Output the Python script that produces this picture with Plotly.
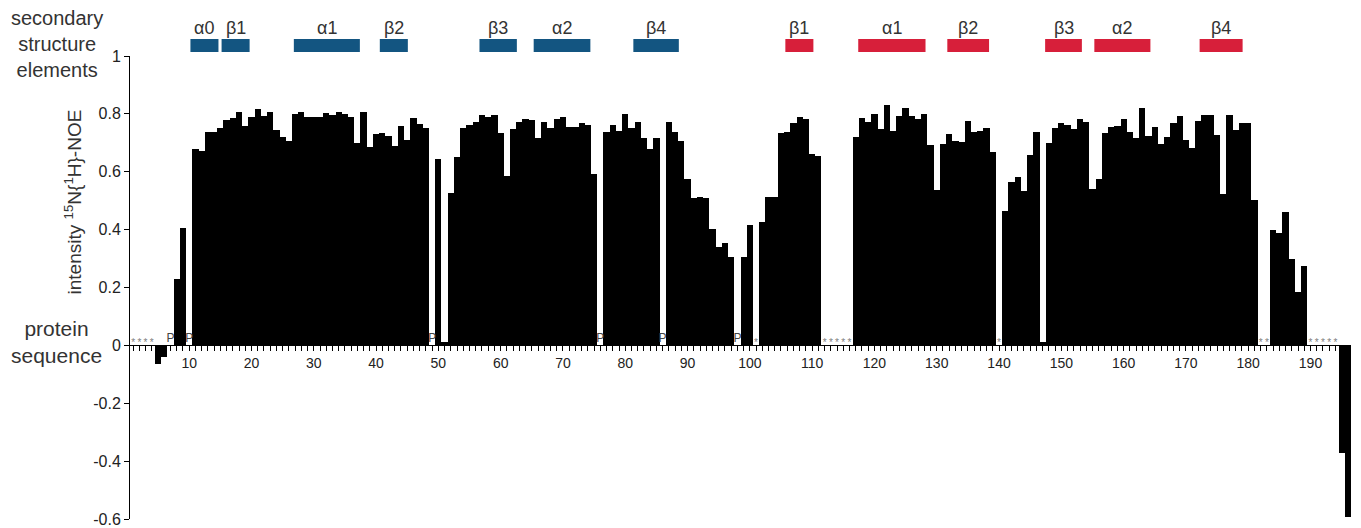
import plotly.graph_objects as go

# ---------------- data ----------------
residues = list(range(1, 197))

noe_values = [
    None, None, None, None, -0.063, -0.040, None, 0.231, 0.406, None,          # 1-10
    0.677, 0.672, 0.738, 0.738, 0.752, 0.778, 0.787, 0.808, 0.759, 0.790,      # 11-20
    0.818, 0.792, 0.806, 0.744, 0.721, 0.706, 0.799, 0.805, 0.790, 0.790,      # 21-30
    0.790, 0.804, 0.797, 0.805, 0.800, 0.789, 0.699, 0.808, 0.685, 0.730,      # 31-40
    0.734, 0.724, 0.688, 0.759, 0.711, 0.787, 0.764, 0.752, None, 0.644,       # 41-50
    0.012, 0.525, 0.651, 0.750, 0.760, 0.772, 0.795, 0.790, 0.795, 0.733,      # 51-60
    0.587, 0.749, 0.771, 0.781, 0.778, 0.716, 0.773, 0.750, 0.781, 0.789,      # 61-70
    0.756, 0.755, 0.767, 0.761, 0.593, None, 0.736, 0.761, 0.741, 0.798,       # 71-80
    0.750, 0.773, 0.717, 0.677, 0.716, None, 0.772, 0.736, 0.705, 0.574,       # 81-90
    0.511, 0.512, 0.508, 0.401, 0.339, 0.355, 0.307, None, 0.307, 0.415,       # 91-100
    None, 0.427, 0.514, 0.514, 0.733, 0.736, 0.769, 0.790, 0.781, 0.663,       # 101-110
    0.655, None, None, None, None, None, 0.720, 0.785, 0.772, 0.799,           # 111-120
    0.749, 0.830, 0.741, 0.791, 0.822, 0.792, 0.783, 0.801, 0.692, 0.537,      # 121-130
    0.697, 0.731, 0.708, 0.704, 0.774, 0.737, 0.741, 0.750, 0.668, None,       # 131-140
    0.465, 0.563, 0.583, 0.533, 0.658, 0.737, 0.012, 0.699, 0.750, 0.767,      # 141-150
    0.761, 0.749, 0.781, 0.771, 0.539, 0.575, 0.733, 0.756, 0.757, 0.781,      # 151-160
    0.738, 0.716, 0.820, 0.722, 0.755, 0.695, 0.719, 0.767, 0.792, 0.711,      # 161-170
    0.683, 0.776, 0.796, 0.796, 0.728, 0.524, 0.796, 0.743, 0.768, 0.769,      # 171-180
    0.501, None, None, 0.397, 0.388, 0.460, 0.297, 0.185, 0.276, None,         # 181-190
    None, None, None, None, -0.373, -0.594,                                    # 191-196
]

proline_residues = [7, 10, 49, 76, 86, 98]
unassigned_residues = [1, 2, 3, 4, 101, 112, 113, 114, 115, 116, 140,
                       182, 183, 190, 191, 192, 193, 194]

# secondary structure elements (residue spans)
ss_labels = ["α0", "β1", "α1", "β2", "β3", "α2", "β4",
             "β1", "α1", "β2", "β3", "α2", "β4"]
ss_start = [10.2, 15.2, 26.8, 40.6, 56.6, 65.3, 81.3,
            105.7, 117.4, 131.7, 147.4, 155.3, 172.2]
ss_end = [14.7, 19.7, 37.4, 45.1, 62.6, 74.4, 88.6,
          110.2, 128.2, 138.4, 153.3, 164.3, 179.1]
ss_domain = ["N", "N", "N", "N", "N", "N", "N",
             "C", "C", "C", "C", "C", "C"]

y_ticks = [-0.6, -0.4, -0.2, 0, 0.2, 0.4, 0.6, 0.8, 1]
y_tick_text = ["-0.6", "-0.4", "-0.2", "0", "0.2", "0.4", "0.6", "0.8", "1"]

# ---------------- styling ----------------
FONT = "Liberation Sans, Arial, Helvetica, sans-serif"
domain_colors = {"N": "#135581", "C": "#d71f3a"}
Y_MIN, Y_MAX = -0.6, 1.0

fig = go.Figure()

fig.add_trace(go.Bar(
    x=residues, y=noe_values, width=1.0,
    marker=dict(color="black", line=dict(width=0)),
    showlegend=False, hoverinfo="x+y",
))

fig.add_trace(go.Scatter(
    x=proline_residues, y=[0.022] * len(proline_residues),
    mode="text", text=["P"] * len(proline_residues),
    textfont=dict(family=FONT, size=12, color="#444444"),
    textposition="middle center", showlegend=False, hoverinfo="skip",
    cliponaxis=False,
))
fig.add_trace(go.Scatter(
    x=unassigned_residues, y=[0.006] * len(unassigned_residues),
    mode="text", text=["*"] * len(unassigned_residues),
    textfont=dict(family=FONT, size=10, color="#808080"),
    textposition="middle center", showlegend=False, hoverinfo="skip",
    cliponaxis=False,
))

shapes = []
annotations = []
for lab, s, e, d in zip(ss_labels, ss_start, ss_end, ss_domain):
    shapes.append(dict(type="rect", xref="x", yref="paper",
                       x0=s, x1=e, y0=1.0086, y1=1.0367,
                       fillcolor=domain_colors[d], line=dict(width=0)))
    annotations.append(dict(x=(s + e) / 2, y=1.060, xref="x", yref="paper",
                            text=lab, showarrow=False,
                            font=dict(family=FONT, size=18, color="#333333"),
                            xanchor="center", yanchor="middle"))

annotations.append(dict(x=-0.060, y=1.026, xref="paper", yref="paper",
                        text="secondary<br>structure<br>elements", showarrow=False,
                        align="center", xanchor="center", yanchor="middle",
                        font=dict(family=FONT, size=20, color="#333333")))
annotations.append(dict(x=-0.060, y=0.382, xref="paper", yref="paper",
                        text="protein<br>sequence", showarrow=False,
                        align="center", xanchor="center", yanchor="middle",
                        font=dict(family=FONT, size=21, color="#333333")))
annotations.append(dict(x=-0.047, y=0.685, xref="paper", yref="paper",
                        text="intensity <sup>15</sup>N{<sup>1</sup>H}-NOE",
                        textangle=-90, showarrow=False,
                        xanchor="center", yanchor="middle",
                        font=dict(family=FONT, size=19, color="#333333")))

# the page body keeps its default 8px margin, so the figure is 8px smaller
fig.update_layout(
    width=1353, height=520,
    margin=dict(l=122, r=10, t=48, b=9, autoexpand=False),
    paper_bgcolor="white", plot_bgcolor="white",
    bargap=0,
    shapes=shapes, annotations=annotations,
    font=dict(family=FONT, color="#222222"),
    xaxis=dict(
        range=[0.5, 196.5], anchor="free", automargin=False,
        position=(0 - Y_MIN) / (Y_MAX - Y_MIN),
        showline=True, linecolor="black", linewidth=1,
        showgrid=False, zeroline=False,
        ticks="outside", ticklen=5, tickcolor="black", tickwidth=1,
        tick0=0, dtick=10,
        tickfont=dict(family=FONT, size=14, color="#222222"),
        minor=dict(ticks="outside", ticklen=5, tickcolor="black",
                   tickwidth=1, tick0=0, dtick=1, showgrid=False),
    ),
    yaxis=dict(
        range=[Y_MIN, Y_MAX], domain=[0, 1], automargin=False,
        showline=True, linecolor="black", linewidth=1,
        showgrid=False, zeroline=False,
        ticks="outside", ticklen=5, tickcolor="black",
        tickvals=y_ticks, ticktext=y_tick_text,
        tickfont=dict(family=FONT, size=16, color="#222222"),
    ),
)

fig.write_html("out.html")
